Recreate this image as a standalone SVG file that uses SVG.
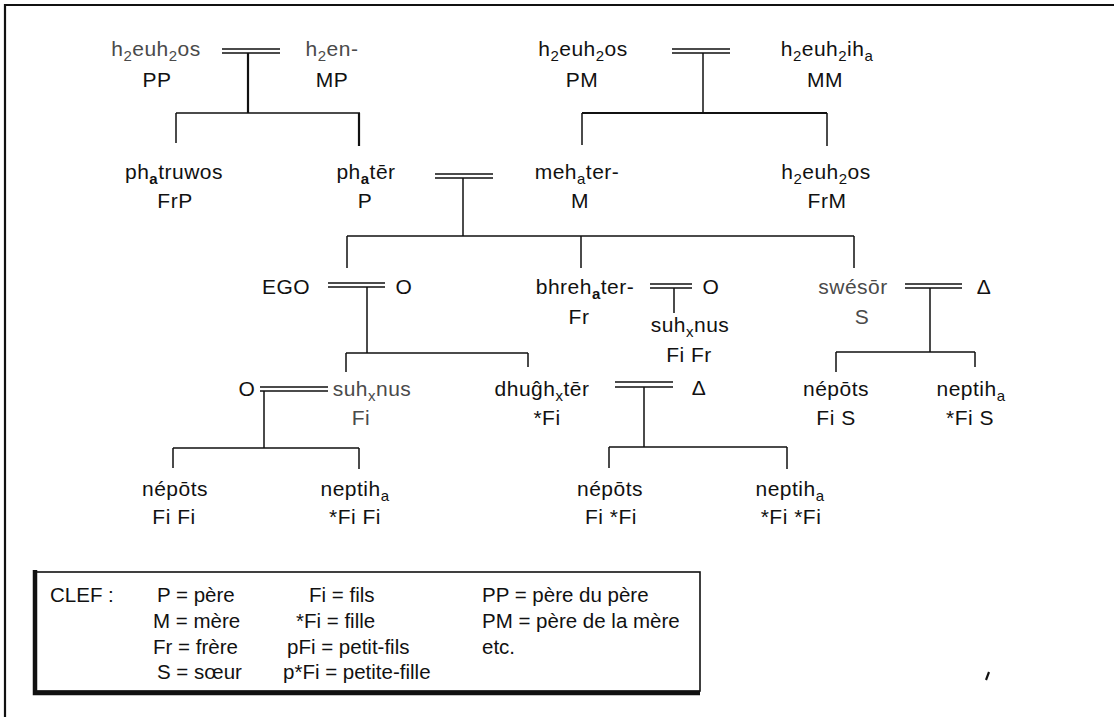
<svg xmlns="http://www.w3.org/2000/svg" width="1114" height="717" viewBox="0 0 1114 717">
<style>
.t{font-family:"Liberation Sans",Arial,Helvetica,sans-serif;font-size:21px;letter-spacing:0.5px;fill:#111;text-anchor:middle}
.g{fill:#4a4a4a}
.s{font-size:15px}
.b{font-weight:bold}
.lg{font-family:"Liberation Sans",Arial,Helvetica,sans-serif;font-size:20.5px;fill:#111}
.ln{stroke:#111;stroke-width:1.5;fill:none}
.lb{stroke:#111;stroke-width:2.2;fill:none}
</style>
<rect width="1114" height="717" fill="#fff"/>
<path class="lb" d="M5,717 V5 H1114"/>

<g id="connectors">
  <path class="ln" d="M222,49 H280 M222,53 H280"/>
  <path class="lb" d="M248,53 V113"/>
  <path class="ln" d="M176,113 H360 M176,113 V143"/>
  <path class="lb" d="M359,113 V146"/>
  <path class="ln" d="M672,49 H730 M672,53 H730"/>
  <path class="ln" d="M703,53 V113"/>
  <path class="lb" d="M582,113 H827"/>
  <path class="ln" d="M582,113 V145 M827,113 V146"/>
  <path class="ln" d="M435,174 H493 M435,178 H493"/>
  <path class="ln" d="M463,178 V236"/>
  <path class="ln" d="M347,236 H854 M347,236 V268 M581,236 V268 M854,236 V268"/>
  <path class="ln" d="M328,283 H385 M328,287 H385"/>
  <path class="ln" d="M367,287 V353 M346,353 H528 M346,353 V372 M528,353 V367"/>
  <path class="ln" d="M650,284 H692 M650,288 H692 M674,288 V313"/>
  <path class="ln" d="M905,284 H962 M905,288 H962 M930,288 V352 M836,352 H975 M836,352 V372 M975,352 V367"/>
  <path class="ln" d="M260,387 H328 M260,391 H328 M264,391 V448 M173,448 H359 M173,448 V468 M359,448 V469"/>
  <path class="ln" d="M615,382 H673 M615,387 H673 M644,387 V447 M609,447 H787 M609,447 V468 M787,447 V469"/>
</g>

<g id="n-pp"><text class="t g" x="156" y="56">h<tspan class="s" dy="5">2</tspan><tspan dy="-5">euh</tspan><tspan class="s" dy="5">2</tspan><tspan dy="-5">os</tspan></text><text class="t" x="157" y="87">PP</text></g>
<g id="n-mp"><text class="t g" x="332" y="56">h<tspan class="s" dy="5">2</tspan><tspan dy="-5">en-</tspan></text><text class="t" x="332" y="87">MP</text></g>
<g id="n-pm"><text class="t" x="583" y="56">h<tspan class="s" dy="5">2</tspan><tspan dy="-5">euh</tspan><tspan class="s" dy="5">2</tspan><tspan dy="-5">os</tspan></text><text class="t" x="582" y="87">PM</text></g>
<g id="n-mm"><text class="t" x="827" y="56">h<tspan class="s" dy="5">2</tspan><tspan dy="-5">euh</tspan><tspan class="s" dy="5">2</tspan><tspan dy="-5">ih</tspan><tspan class="s" dy="5">a</tspan></text><text class="t" x="825" y="87">MM</text></g>

<g id="n-frp"><text class="t" x="174" y="179">ph<tspan class="s b" dy="5">a</tspan><tspan dy="-5">truwos</tspan></text><text class="t" x="175" y="208">FrP</text></g>
<g id="n-p"><text class="t" x="366" y="179">ph<tspan class="s b" dy="5">a</tspan><tspan dy="-5">tēr</tspan></text><text class="t" x="365" y="208">P</text></g>
<g id="n-m"><text class="t" x="577" y="179">meh<tspan class="s" dy="5">a</tspan><tspan dy="-5">ter-</tspan></text><text class="t" x="580" y="208">M</text></g>
<g id="n-frm"><text class="t" x="826" y="179">h<tspan class="s" dy="5">2</tspan><tspan dy="-5">euh</tspan><tspan class="s" dy="5">2</tspan><tspan dy="-5">os</tspan></text><text class="t" x="827" y="208">FrM</text></g>

<g id="n-ego"><text class="t" x="286" y="294">EGO</text></g>
<g id="n-ego-wife"><text class="t" x="404" y="294">O</text></g>
<g id="n-fr"><text class="t" x="585" y="294">bhreh<tspan class="s b" dy="5">a</tspan><tspan dy="-5">ter-</tspan></text><text class="t" x="579" y="324">Fr</text></g>
<g id="n-fr-wife"><text class="t" x="711" y="294">O</text></g>
<g id="n-fifr"><text class="t" x="690" y="332">suh<tspan class="s" dy="5">x</tspan><tspan dy="-5">nus</tspan></text><text class="t" x="689" y="362">Fi Fr</text></g>
<g id="n-s"><text class="t g" x="853" y="294">swésōr</text><text class="t g" x="862" y="324">S</text></g>
<g id="n-s-husband"><text class="t" x="984" y="294">Δ</text></g>

<g id="n-fi-wife"><text class="t" x="247" y="396">O</text></g>
<g id="n-fi"><text class="t g" x="372" y="396">suh<tspan class="s" dy="5">x</tspan><tspan dy="-5">nus</tspan></text><text class="t g" x="361" y="425">Fi</text></g>
<g id="n-dau"><text class="t" x="542" y="396">dhuĝh<tspan class="s" dy="5">x</tspan><tspan dy="-5">tēr</tspan></text><text class="t" x="547" y="425">*Fi</text></g>
<g id="n-dau-husband"><text class="t" x="699" y="395">Δ</text></g>
<g id="n-fis"><text class="t" x="836" y="396">népōts</text><text class="t" x="836" y="425">Fi S</text></g>
<g id="n-dfis"><text class="t" x="971" y="396">neptih<tspan class="s" dy="5">a</tspan></text><text class="t" x="970" y="425">*Fi S</text></g>

<g id="n-fifi"><text class="t" x="175" y="496">népōts</text><text class="t" x="174" y="524">Fi Fi</text></g>
<g id="n-dfifi"><text class="t" x="355" y="496">neptih<tspan class="s" dy="5">a</tspan></text><text class="t" x="355" y="524">*Fi Fi</text></g>
<g id="n-fidfi"><text class="t" x="610" y="496">népōts</text><text class="t" x="611" y="524">Fi *Fi</text></g>
<g id="n-dfidfi"><text class="t" x="790" y="496">neptih<tspan class="s" dy="5">a</tspan></text><text class="t" x="791" y="524">*Fi *Fi</text></g>

<g id="legend">
  <rect x="35" y="572" width="665" height="119" fill="none" stroke="#111" stroke-width="1.6"/>
  <path d="M35,570 V693 H700" fill="none" stroke="#111" stroke-width="4.5"/>
  <text class="lg" x="50" y="602">CLEF :</text>
  <text class="lg" x="157" y="602">P = père</text>
  <text class="lg" x="153" y="628">M = mère</text>
  <text class="lg" x="153" y="654">Fr = frère</text>
  <text class="lg" x="157" y="679">S = sœur</text>
  <text class="lg" x="309" y="602">Fi = fils</text>
  <text class="lg" x="296" y="628">*Fi = fille</text>
  <text class="lg" x="287" y="654">pFi = petit-fils</text>
  <text class="lg" x="283" y="679">p*Fi = petite-fille</text>
  <text class="lg" x="482" y="602">PP = père du père</text>
  <text class="lg" x="482" y="628">PM = père de la mère</text>
  <text class="lg" x="482" y="654">etc.</text>
</g>
<path d="M989,672 L986,680" stroke="#111" stroke-width="2.2" fill="none"/>
</svg>
